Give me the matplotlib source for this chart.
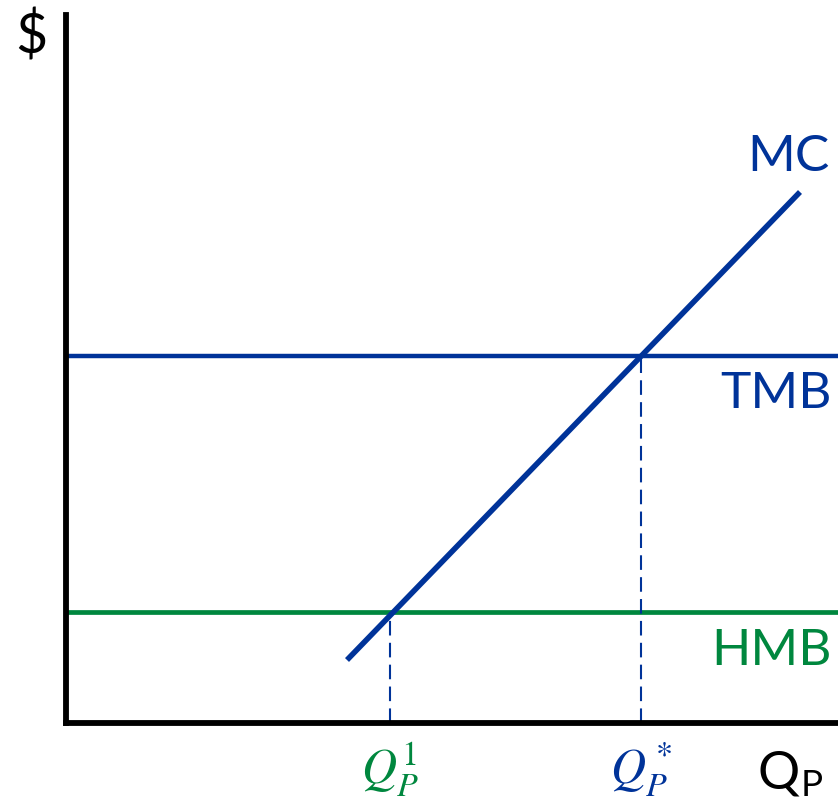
import matplotlib.pyplot as plt

# Model values (hundreds of pixels-ish units, origin at the axes corner)
mc_q = [2.81, 7.34]
mc_p = [0.63, 5.31]
tmb_level = 3.67
hmb_level = 1.11
q_one = 3.24
q_star = 5.75
x_max = 7.72
y_max = 7.08

blue = '#003399'
green = '#00873e'

plt.rcParams['font.family'] = ['Lato', 'DejaVu Sans']
plt.rcParams['mathtext.fontset'] = 'stix'

fig = plt.figure(figsize=(8.38, 8.08), dpi=100)
ax = fig.add_axes([66 / 838, 85 / 808, (838 - 66) / 838, (723 - 15) / 808])
ax.set_xlim(0, x_max)
ax.set_ylim(0, y_max)
for s in ['top', 'right']:
    ax.spines[s].set_visible(False)
ax.spines['left'].set_linewidth(4.2)
ax.spines['bottom'].set_linewidth(4.2)
ax.set_xticks([])
ax.set_yticks([])

# horizontal benefit lines
ax.axhline(tmb_level, color=blue, lw=3.2)
ax.axhline(hmb_level, color=green, lw=3.4)

# MC curve
ax.plot(mc_q, mc_p, color=blue, lw=4.0, solid_capstyle='butt')

# dashed drop lines
ax.plot([q_one, q_one], [0, hmb_level], color=blue, lw=1.5, ls=(0, (7, 3.5)))
ax.plot([q_star, q_star], [0, tmb_level], color=blue, lw=1.5, ls=(0, (7, 3.5)))

# labels
ax.text(mc_q[1] - 0.12, mc_p[1] + 0.35, 'MC', color=blue, fontsize=37, ha='center', va='center')
ax.text(x_max - 0.06, tmb_level - 0.38, 'TMB', color=blue, fontsize=37, ha='right', va='center')
ax.text(x_max - 0.06, hmb_level - 0.39, 'HMB', color=green, fontsize=37, ha='right', va='center')

ax.text(q_one, -0.47, r'$Q_P^1$', color=green, fontsize=35, ha='center', va='center', clip_on=False)
ax.text(q_star, -0.47, r'$Q_P^*$', color=blue, fontsize=35, ha='center', va='center', clip_on=False)

fig.text(790 / 838, 1 - 774 / 808, r'Q$_\mathregular{P}$', fontsize=38, ha='center', va='center')
fig.text(31 / 838, 1 - 37 / 808, '$', fontsize=40, ha='center', va='center')

fig.savefig('out.png', dpi=100)
